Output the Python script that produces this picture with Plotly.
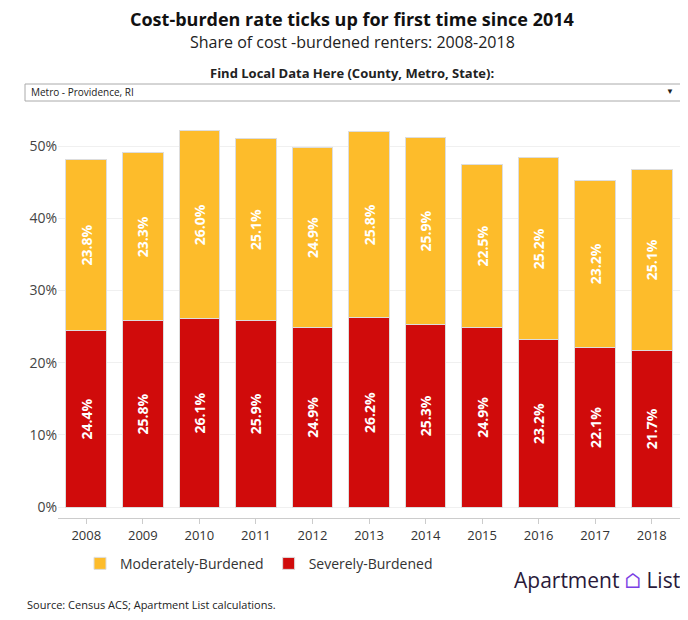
import plotly.graph_objects as go

years = ['2008', '2009', '2010', '2011', '2012', '2013', '2014', '2015', '2016', '2017', '2018']
severe = [24.4, 25.8, 26.1, 25.9, 24.9, 26.2, 25.3, 24.9, 23.2, 22.1, 21.7]
moderate = [23.8, 23.3, 26.0, 25.1, 24.9, 25.8, 25.9, 22.5, 25.2, 23.2, 25.1]

font = 'Open Sans, Lato, sans-serif'
# page is drawn with an 8px body margin
OFF = 8
L, R, T, B = 50, 16, 102, 110
PW, PH = 688 - L - R, 620 - T - B


def px(x):
    return (x - OFF - L) / PW


def py(y):
    return (620 - B - (y - OFF)) / PH


fig = go.Figure()
fig.add_bar(x=years, y=severe, name='Severely-Burdened', marker_color='#d00b0b',
            marker_line=dict(color='#dddddd', width=1),
            text=[f'<b>{v:.1f}%</b>' for v in severe], textposition='inside', textangle=-90,
            insidetextanchor='middle',
            textfont=dict(color='white', size=14, family=font))
fig.add_bar(x=years, y=moderate, name='Moderately-Burdened', marker_color='#fdbc2b',
            marker_line=dict(color='#dddddd', width=1),
            text=[f'<b>{v:.1f}%</b>' for v in moderate], textposition='inside', textangle=-90,
            insidetextanchor='middle',
            textfont=dict(color='white', size=14, family=font))

fig.update_layout(
    width=688, height=620, barmode='stack', bargap=0.28,
    plot_bgcolor='white', paper_bgcolor='white',
    font=dict(family=font, color='#333', size=13),
    margin=dict(l=L, r=R, t=T, b=B),
    showlegend=True,
    legend=dict(orientation='h', x=px(80), xanchor='left', y=-0.073, yanchor='top',
                traceorder='reversed', font=dict(size=14, color='#333')),
    yaxis=dict(range=[-1.5, 55], tickvals=[0, 10, 20, 30, 40, 50],
               ticktext=['0%', '10%', '20%', '30%', '40%', '50%'],
               gridcolor='#f0f0f0', zeroline=False, tickfont=dict(size=14, color='#444'),
               ticks='', showline=False),
    xaxis=dict(showline=True, linecolor='#cccccc', tickfont=dict(size=13, color='#333'),
               ticks='outside', ticklen=5, tickcolor='#cccccc'),
)
anns = [
    ('<b>Cost-burden rate ticks up for first time since 2014</b>', 19, 18, '#111'),
    ('Share of cost -burdened renters: 2008-2018', 42, 16, '#222'),
    ('<b>Find Local Data Here (County, Metro, State):</b>', 73, 13, '#222'),
]
for text, y, size, color in anns:
    fig.add_annotation(text=text, x=px(352), y=py(y), xref='paper', yref='paper', yanchor='middle',
                       showarrow=False, font=dict(size=size, color=color))
fig.add_annotation(text='Metro - Providence, RI', x=px(29), y=py(92), xref='paper', yref='paper',
                   xanchor='left', yanchor='middle', showarrow=False, font=dict(size=10, color='#222'))
fig.add_annotation(text='▼', x=px(676), y=py(91), xref='paper', yref='paper',
                   xanchor='right', yanchor='middle', showarrow=False, font=dict(size=8, color='#222'))
fig.add_annotation(text='Source: Census ACS; Apartment List calculations.', x=px(25), y=py(604),
                   xref='paper', yref='paper', xanchor='left', yanchor='middle', showarrow=False,
                   font=dict(size=11, color='#222'))
fig.add_annotation(text='Apartment <span style="color:#7b3fe4">⌂</span> List', x=px(682), y=py(580),
                   xref='paper', yref='paper', xanchor='right', yanchor='middle', showarrow=False,
                   font=dict(size=21, color='#2a1a3a'))
fig.add_shape(type='rect', xref='paper', yref='paper', x0=px(25), x1=px(681),
              y0=py(101), y1=py(84), line=dict(color='#aaaaaa', width=1))
fig.write_html('out.html')
